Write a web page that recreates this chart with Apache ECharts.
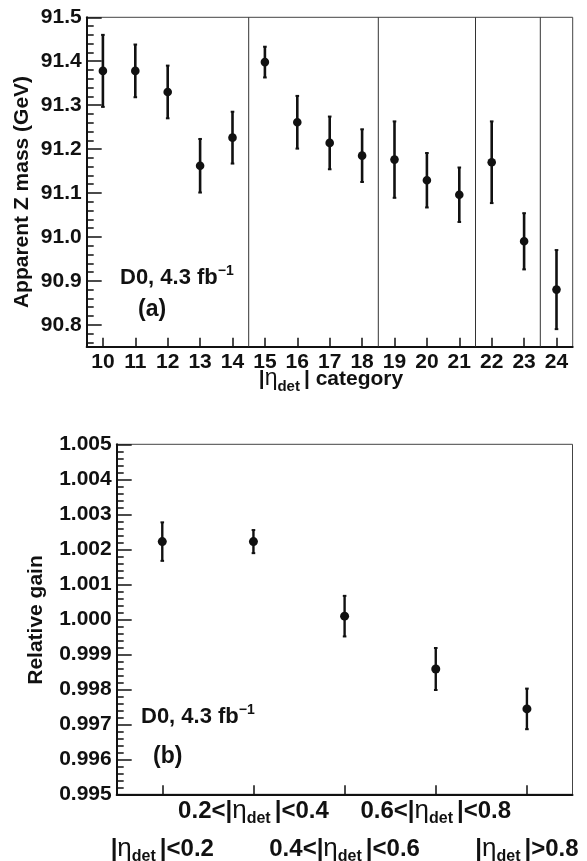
<!DOCTYPE html>
<html><head><meta charset="utf-8">
<script src="https://cdn.jsdelivr.net/npm/echarts@6/dist/echarts.min.js"></script>
<style>html,body{margin:0;padding:0;background:#fff}#c{width:587px;height:861px}</style>
</head><body><div id="c"></div>
<script>
// ---- data (a) ----
const massCategories = [10, 11, 12, 13, 14, 15, 16, 17, 18, 19, 20, 21, 22, 23, 24];
const massValues = [91.378, 91.378, 91.330, 91.162, 91.226, 91.398, 91.261, 91.214, 91.185, 91.176, 91.129, 91.096, 91.170, 90.990, 90.880];
const massErrors = [0.082, 0.060, 0.060, 0.061, 0.059, 0.035, 0.060, 0.060, 0.060, 0.087, 0.062, 0.062, 0.093, 0.064, 0.090];
const massSeparators = [14.5, 18.5, 21.5, 23.5];
const massTickLabels = [90.8, 90.9, 91.0, 91.1, 91.2, 91.3, 91.4, 91.5];
// ---- data (b) ----
const gainCategories = ['|η_det|<0.2', '0.2<|η_det|<0.4', '0.4<|η_det|<0.6', '0.6<|η_det|<0.8', '|η_det|>0.8'];
const gainValues = [1.00222, 1.00222, 1.00009, 0.99858, 0.99744];
const gainErrors = [0.00055, 0.00033, 0.00058, 0.00060, 0.00058];
const gainTickLabels = [0.995, 0.996, 0.997, 0.998, 0.999, 1.000, 1.001, 1.002, 1.003, 1.004, 1.005];

// minor tick positions (axis decoration)
const massMinor = [];
for (let k = 9076; k <= 9148; k += 2) { if (k % 10 !== 0) massMinor.push(k / 100); }
const gainMinor = [];
for (let k = 99520; k <= 100480; k += 20) { if (k % 100 !== 0) gainMinor.push(k / 100000); }

const F = '"Liberation Sans", Arial, Helvetica, sans-serif';
const INK = '#111';

function etaRich(str) {
  const parts = str.split('η_det');
  let out = '';
  if (parts[0]) out += '{t|' + parts[0] + '}';
  out += '{e|η}{s|det}';
  if (parts[1]) out += '{t|' + parts[1] + '}';
  return out;
}
const richEta = (big, sub) => ({
  t: { fontFamily: F, fontWeight: 'bold', fontSize: big, color: INK, lineHeight: 30, verticalAlign: 'middle' },
  e: { fontFamily: F, fontWeight: 'normal', fontSize: big + 2, color: INK, lineHeight: 30, verticalAlign: 'middle' },
  s: { fontFamily: F, fontWeight: 'bold', fontSize: sub, color: INK, lineHeight: 16, verticalAlign: 'bottom', padding: [0, 4, 0, 0] }
});
const richD0 = {
  m: { fontFamily: F, fontWeight: 'bold', fontSize: 22, fill: INK, lineHeight: 28, verticalAlign: 'middle' },
  p: { fontFamily: F, fontWeight: 'bold', fontSize: 14, fill: INK, lineHeight: 12, verticalAlign: 'top' }
};

function errRender(capW, lw, r) {
  return function (params, api) {
    const x = api.value(0), y = api.value(1), e = api.value(2);
    const c = api.coord([x, y]);
    const t = api.coord([x, y + e]);
    const b = api.coord([x, y - e]);
    const st = { stroke: INK, lineWidth: lw };
    return { type: 'group', children: [
      { type: 'line', shape: { x1: c[0], y1: t[1], x2: c[0], y2: b[1] }, style: st },
      { type: 'line', shape: { x1: c[0] - capW, y1: t[1], x2: c[0] + capW, y2: t[1] }, style: { stroke: INK, lineWidth: 2 } },
      { type: 'line', shape: { x1: c[0] - capW, y1: b[1], x2: c[0] + capW, y2: b[1] }, style: { stroke: INK, lineWidth: 2 } },
      { type: 'circle', shape: { cx: c[0], cy: c[1], r: r }, style: { fill: INK } }
    ] };
  };
}

const axLine = { show: true, lineStyle: { color: INK, width: 2 } };
const tickStyle = { color: INK, width: 1.5 };
const lab = { fontFamily: F, fontWeight: 'bold', fontSize: 21, color: INK };

const chart = echarts.init(document.getElementById('c'), null, { renderer: 'canvas' });
chart.setOption({
  animation: false,
  backgroundColor: '#fff',
  grid: [
    { left: 86.7, top: 17.3, width: 486, height: 329.4, show: true, borderColor: '#444', borderWidth: 1, backgroundColor: 'transparent', outerBoundsMode: 'none' },
    { left: 116.7, top: 444.3, width: 455.8, height: 350, show: true, borderColor: '#444', borderWidth: 1, backgroundColor: 'transparent', outerBoundsMode: 'none' }
  ],
  xAxis: [
    { gridIndex: 0, type: 'value', min: 9.5, max: 24.5, splitLine: { show: false }, axisLine: axLine,
      axisTick: { show: true, inside: true, length: 9, customValues: massCategories, lineStyle: tickStyle },
      axisLabel: Object.assign({ customValues: massCategories, margin: 5, lineHeight: 21 }, lab) },
    { gridIndex: 1, type: 'category', data: gainCategories, boundaryGap: true, position: 'bottom', axisLine: axLine,
      splitLine: { show: false },
      axisTick: { show: true, inside: true, alignWithLabel: true, interval: 0, length: 9, lineStyle: tickStyle },
      axisLabel: { interval: (i) => i % 2 === 1, margin: 2, formatter: (v) => etaRich(v), rich: richEta(24, 16) } },
    { gridIndex: 1, type: 'category', data: gainCategories, boundaryGap: true, position: 'bottom',
      axisLine: { show: false }, axisTick: { show: false }, splitLine: { show: false },
      axisLabel: { interval: (i) => i % 2 === 0, margin: 40, formatter: (v) => etaRich(v), rich: richEta(24, 16) } }
  ],
  yAxis: [
    { gridIndex: 0, type: 'value', min: 90.75, max: 91.5, position: 'left', splitLine: { show: false }, axisLine: axLine,
      axisTick: { show: true, inside: true, length: 15, customValues: massTickLabels, lineStyle: tickStyle },
      axisLabel: Object.assign({ customValues: massTickLabels, margin: 5, formatter: (v) => v.toFixed(1) }, lab) },
    { gridIndex: 0, type: 'value', min: 90.75, max: 91.5, position: 'left', splitLine: { show: false }, axisLine: { show: false },
      axisTick: { show: true, inside: true, length: 7, customValues: massMinor, lineStyle: tickStyle },
      axisLabel: { show: false } },
    { gridIndex: 1, type: 'value', min: 0.995, max: 1.005, position: 'left', splitLine: { show: false }, axisLine: axLine,
      axisTick: { show: true, inside: true, length: 15, customValues: gainTickLabels, lineStyle: tickStyle },
      axisLabel: Object.assign({ customValues: gainTickLabels, margin: 5, formatter: (v) => v.toFixed(3) }, lab) },
    { gridIndex: 1, type: 'value', min: 0.995, max: 1.005, position: 'left', splitLine: { show: false }, axisLine: { show: false },
      axisTick: { show: true, inside: true, length: 7, customValues: gainMinor, lineStyle: tickStyle },
      axisLabel: { show: false } }
  ],
  series: [
    { type: 'custom', xAxisIndex: 0, yAxisIndex: 0, z: 1,
      data: massSeparators.map((v) => [v]),
      renderItem: function (params, api) {
        const cs = params.coordSys;
        const p = api.coord([api.value(0), 91.0]);
        return { type: 'line', shape: { x1: p[0], y1: cs.y, x2: p[0], y2: cs.y + cs.height }, style: { stroke: '#333', lineWidth: 1 } };
      } },
    { type: 'custom', xAxisIndex: 0, yAxisIndex: 0, z: 3,
      data: massCategories.map((c, i) => [c, massValues[i], massErrors[i]]),
      renderItem: errRender(1.8, 2.6, 4.3) },
    { type: 'custom', xAxisIndex: 1, yAxisIndex: 2, z: 3,
      data: gainCategories.map((c, i) => [i, gainValues[i], gainErrors[i]]),
      renderItem: errRender(1.8, 2.4, 4.5) }
  ],
  graphic: [
    { type: 'text', x: 22, y: 192, rotation: Math.PI / 2,
      style: { text: 'Apparent Z mass (GeV)', font: 'bold 21px ' + F, fill: INK, align: 'center', verticalAlign: 'middle' } },
    { type: 'text', x: 36, y: 620, rotation: Math.PI / 2,
      style: { text: 'Relative gain', font: 'bold 21px ' + F, fill: INK, align: 'center', verticalAlign: 'middle' } },
    { type: 'text', x: 331, y: 379,
      style: { text: '{t||}{e|η}{s|det}{t|| category}', rich: richEta(21, 15), align: 'center', verticalAlign: 'middle', fill: INK } },
    { type: 'text', x: 120, y: 278,
      style: { text: '{m|D0, 4.3 fb}{p|−1}', rich: richD0, align: 'left', verticalAlign: 'middle', fill: INK } },
    { type: 'text', x: 138, y: 310,
      style: { text: '(a)', font: 'bold 23px ' + F, fill: INK, align: 'left', verticalAlign: 'middle' } },
    { type: 'text', x: 141, y: 717,
      style: { text: '{m|D0, 4.3 fb}{p|−1}', rich: richD0, align: 'left', verticalAlign: 'middle', fill: INK } },
    { type: 'text', x: 153, y: 757,
      style: { text: '(b)', font: 'bold 23px ' + F, fill: INK, align: 'left', verticalAlign: 'middle' } }
  ]
});
</script>
</body></html>
